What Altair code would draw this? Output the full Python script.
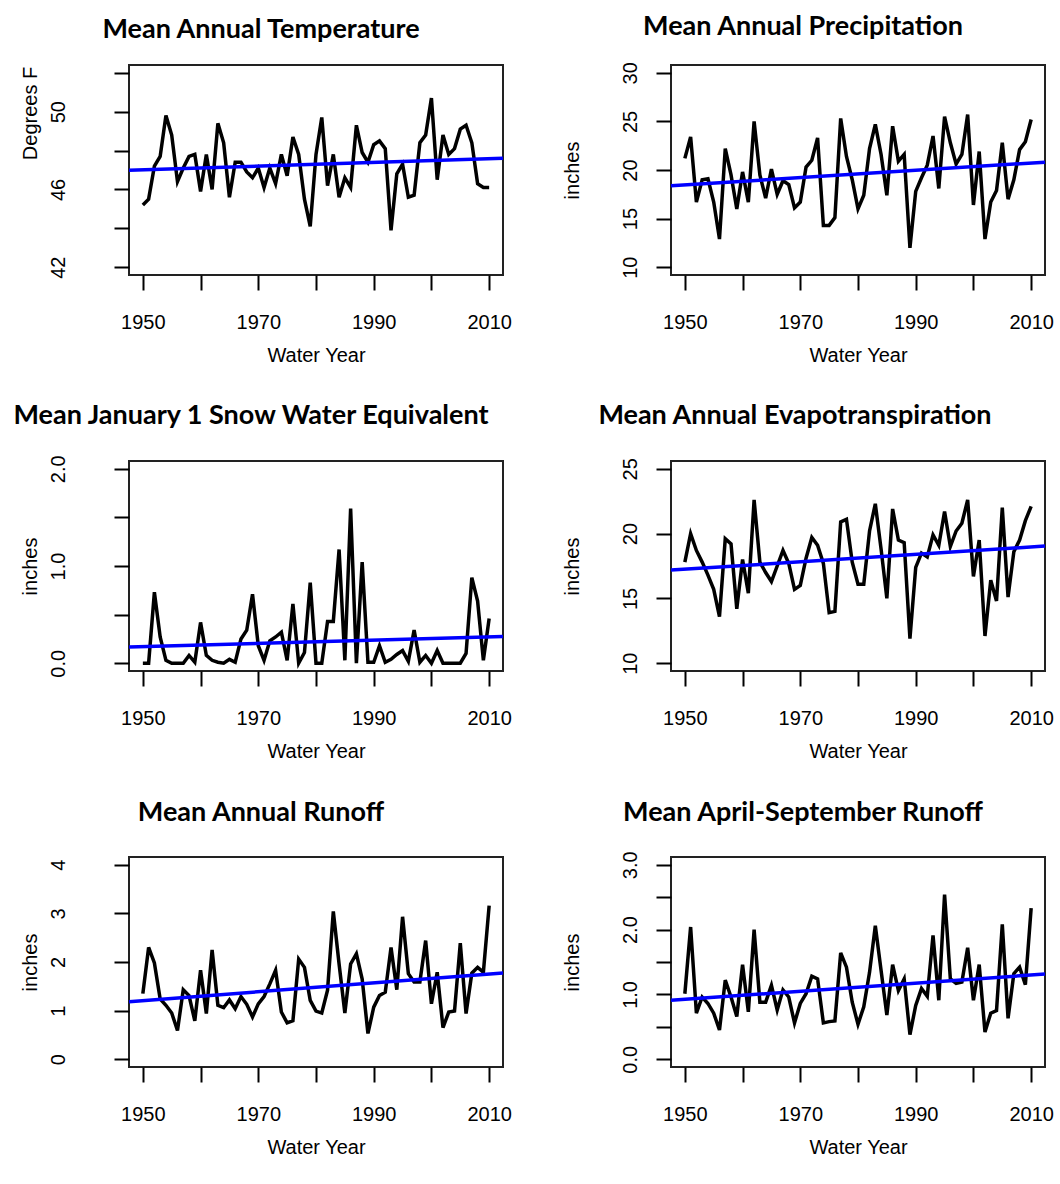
import altair as alt
import pandas as pd

# Water years covered by every series
years = list(range(1950, 2011))

# Mean annual temperature, degrees F
temperature = [
    45.2, 45.5, 47.2, 47.7, 49.8, 48.8, 46.4, 47.1, 47.7, 47.8,
    45.9, 47.8, 46.0, 49.4, 48.4, 45.6, 47.4, 47.4, 46.9, 46.6,
    47.1, 46.1, 47.1, 46.3, 47.8, 46.7, 48.7, 47.8, 45.5, 44.1,
    47.8, 49.7, 46.2, 47.8, 45.6, 46.6, 46.1, 49.3, 47.9, 47.4,
    48.3, 48.5, 48.1, 43.9, 46.8, 47.3, 45.6, 45.7, 48.4, 48.8,
    50.7, 46.5, 48.8, 47.8, 48.1, 49.1, 49.3, 48.4, 46.3, 46.1,
    46.1,
]

# Mean annual precipitation, inches
precipitation = [
    21.2, 23.4, 16.7, 19.0, 19.1, 16.7, 12.9, 22.2, 19.5, 16.0,
    19.8, 16.7, 25.0, 19.5, 17.1, 20.1, 17.5, 18.9, 18.5, 16.1,
    16.7, 20.3, 21.0, 23.3, 14.3, 14.3, 15.1, 25.3, 21.4, 19.0,
    16.0, 17.4, 22.2, 24.7, 21.6, 17.4, 24.5, 20.9, 21.6, 12.0,
    17.8, 19.2, 20.5, 23.5, 18.1, 25.5, 22.8, 20.6, 21.6, 25.7,
    16.4, 21.9, 12.9, 16.7, 17.9, 22.8, 17.0, 19.0, 22.1, 22.9,
    25.2,
]

# Mean January 1 snow water equivalent, inches
swe = [
    0.00, 0.00, 0.73, 0.27, 0.03, 0.00, 0.00, 0.00, 0.08, 0.01,
    0.42, 0.08, 0.03, 0.01, 0.00, 0.04, 0.01, 0.25, 0.34, 0.71,
    0.18, 0.03, 0.23, 0.27, 0.32, 0.03, 0.61, 0.00, 0.11, 0.83,
    0.00, 0.00, 0.43, 0.43, 1.17, 0.03, 1.59, 0.00, 1.04, 0.01,
    0.01, 0.18, 0.01, 0.04, 0.09, 0.13, 0.02, 0.34, 0.01, 0.08,
    0.00, 0.13, 0.00, 0.00, 0.00, 0.00, 0.10, 0.88, 0.64, 0.03,
    0.46,
]

# Mean annual evapotranspiration, inches
evapotranspiration = [
    17.8, 20.0, 18.7, 17.8, 16.8, 15.7, 13.6, 19.6, 19.2, 14.2,
    18.0, 15.4, 22.6, 17.8, 17.0, 16.3, 17.5, 18.7, 17.7, 15.7,
    16.0, 18.1, 19.7, 19.1, 17.7, 13.9, 14.0, 20.9, 21.1, 17.8,
    16.1, 16.1, 20.2, 22.3, 18.8, 15.0, 21.9, 19.5, 19.3, 11.9,
    17.4, 18.5, 18.2, 19.9, 19.1, 21.7, 19.0, 20.2, 20.8, 22.6,
    16.7, 19.5, 12.1, 16.4, 14.8, 22.0, 15.1, 18.6, 19.5, 21.0,
    22.1,
]

# Mean annual runoff, inches
runoff = [
    1.35, 2.30, 1.98, 1.24, 1.11, 0.95, 0.59, 1.43, 1.31, 0.79,
    1.83, 0.94, 2.25, 1.11, 1.06, 1.22, 1.04, 1.29, 1.13, 0.87,
    1.14, 1.29, 1.55, 1.83, 0.97, 0.75, 0.79, 2.06, 1.89, 1.21,
    0.99, 0.95, 1.42, 3.04, 1.96, 0.95, 1.96, 2.17, 1.65, 0.53,
    1.07, 1.31, 1.38, 2.30, 1.43, 2.93, 1.76, 1.59, 1.59, 2.44,
    1.14, 1.79, 0.65, 0.97, 0.99, 2.39, 0.94, 1.77, 1.89, 1.79,
    3.16,
]

# Mean April-September runoff, inches
runoff_apr_sep = [
    1.01, 2.04, 0.71, 0.96, 0.86, 0.71, 0.45, 1.22, 0.96, 0.66,
    1.46, 0.73, 2.00, 0.88, 0.88, 1.14, 0.76, 1.07, 0.96, 0.56,
    0.86, 1.01, 1.28, 1.24, 0.56, 0.58, 0.59, 1.64, 1.42, 0.88,
    0.54, 0.81, 1.34, 2.06, 1.37, 0.68, 1.46, 1.06, 1.24, 0.38,
    0.83, 1.09, 0.97, 1.91, 0.91, 2.54, 1.24, 1.17, 1.19, 1.72,
    0.91, 1.46, 0.42, 0.71, 0.75, 2.08, 0.63, 1.32, 1.42, 1.15,
    2.33,
]

# Axis ticks and labelled ticks
x_ticks = [1950, 1960, 1970, 1980, 1990, 2000, 2010]
x_labels = [1950, 1970, 1990, 2010]
x_domain = [1947.6, 2012.4]

PLOT_W = 374
PLOT_H = 210
LABEL_FONT = "Liberation Sans"
TITLE_FONT = "Lato"


def label_expr(shown, fmt):
    arr = "[" + ",".join(str(v) for v in shown) + "]"
    return f"indexof({arr}, datum.value) >= 0 ? format(datum.value, '{fmt}') : ''"


def panel(values, title, ytitle, ydomain, yticks, ylabels, yfmt,
          left_col, title_offset, title_dx=-55, ytitle_y=None):
    df = pd.DataFrame({"year": years, "value": values})
    x = alt.X(
        "year:Q",
        scale=alt.Scale(domain=x_domain, nice=False, zero=False),
        axis=alt.Axis(
            values=x_ticks,
            labelExpr=label_expr(x_labels, "d"),
            title="Water Year",
            titleX=PLOT_W / 2,
            titleY=86,
            titleAlign="center",
            titleBaseline="alphabetic",
            labelBaseline="alphabetic",
            labelPadding=38,
        ),
    )
    y = alt.Y(
        "value:Q",
        scale=alt.Scale(domain=ydomain, nice=False, zero=False),
        axis=alt.Axis(
            values=yticks,
            labelExpr=label_expr(ylabels, yfmt),
            title=ytitle,
            titleAngle=270,
            titleX=-93,
            titleY=PLOT_H / 2 if ytitle_y is None else ytitle_y,
            titleAlign="center",
            titleBaseline="alphabetic",
            labelAngle=270,
            labelAlign="center",
            labelBaseline="alphabetic",
            labelPadding=50 if left_col else 20,
        ),
    )
    base = alt.Chart(df)
    series = base.mark_line(color="black", strokeWidth=3.5).encode(x=x, y=y)
    trend = (
        base.transform_regression("year", "value", extent=x_domain)
        .mark_line(color="#0000ff", strokeWidth=3.5)
        .encode(x=x, y=y)
    )
    return alt.layer(series, trend).properties(
        width=PLOT_W,
        height=PLOT_H,
        title=alt.TitleParams(
            text=title,
            anchor="middle",
            frame="group",
            dx=title_dx,
            offset=title_offset,
            baseline="alphabetic",
            font=TITLE_FONT,
            fontSize=27,
            fontWeight="bold",
            color="black",
        ),
    )


panels = [
    panel(temperature, "Mean Annual Temperature", "Degrees F",
          [41.6, 52.4], [42, 44, 46, 48, 50, 52], [42, 46, 50], "d",
          True, 0, ytitle_y=48),
    panel(precipitation, "Mean Annual Precipitation", "inches",
          [9.2, 30.8], [10, 15, 20, 25, 30], [10, 15, 20, 25, 30], "d",
          False, 0),
    panel(swe, "Mean January 1 Snow Water Equivalent", "inches",
          [-0.08, 2.08], [0, 0.5, 1, 1.5, 2], [0, 1, 2], ".1f",
          True, 4, title_dx=-65),
    panel(evapotranspiration, "Mean Annual Evapotranspiration", "inches",
          [9.4, 25.6], [10, 15, 20, 25], [10, 15, 20, 25], "d",
          False, 7, title_dx=-63),
    panel(runoff, "Mean Annual Runoff", "inches",
          [-0.16, 4.16], [0, 1, 2, 3, 4], [0, 1, 2, 3, 4], "d",
          True, 9),
    panel(runoff_apr_sep, "Mean April-September Runoff", "inches",
          [-0.12, 3.12], [0, 0.5, 1, 1.5, 2, 2.5, 3], [0, 1, 2, 3], ".1f",
          False, 3),
]

chart = (
    alt.concat(*panels, columns=2, spacing={"row": 186, "column": 168}, bounds="flush")
    .properties(padding={"left": 11, "top": 11, "right": 5, "bottom": 5}, background="white")
    .configure_view(stroke="#222222", strokeWidth=2)
    .configure_axis(
        grid=False,
        domain=False,
        ticks=True,
        tickSize=15,
        tickWidth=2,
        tickColor="black",
        labelFont=LABEL_FONT,
        labelFontSize=20,
        labelColor="black",
        titleFont=LABEL_FONT,
        titleFontSize=20,
        titleFontWeight="normal",
        titleColor="black",
    )
)

chart.save("out.html", embed_options={"renderer": "svg", "actions": False})
